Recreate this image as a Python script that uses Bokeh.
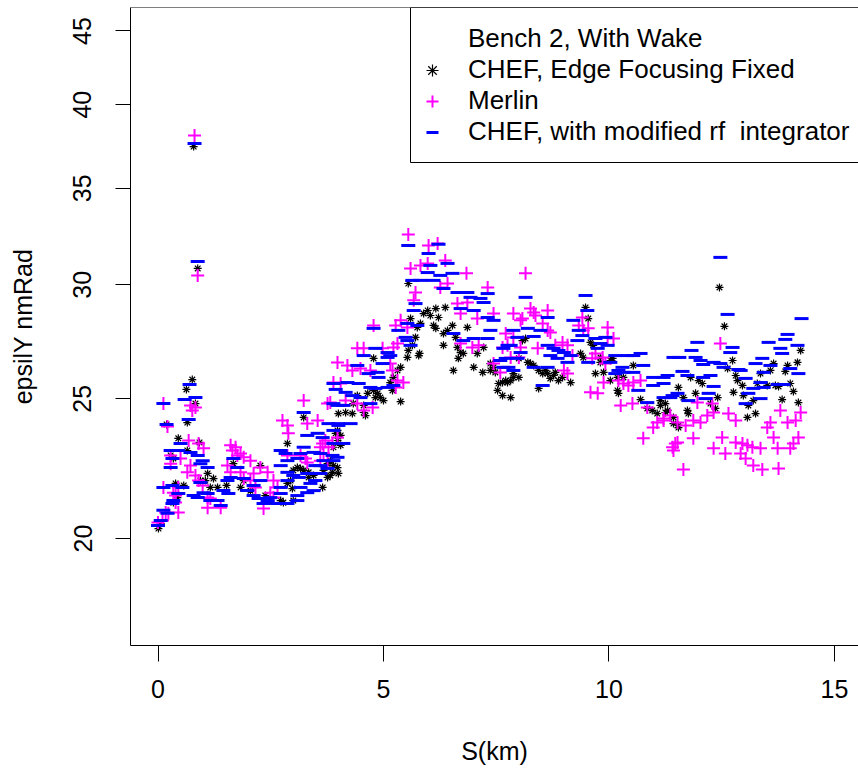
from bokeh.plotting import figure
from bokeh.models import (Range1d, FixedTicker, PrintfTickFormatter, Legend, LegendItem,
                          BoxAnnotation, Span)
from bokeh.embed import file_html
from bokeh.resources import INLINE

# ---------------- data ----------------
chef_s = [0.01, 0.06, 0.19, 0.28, 0.34, 0.34, 0.39, 0.43, 0.45, 0.57, 0.63, 0.65, 0.65, 0.76, 0.79,
          0.83, 0.88, 0.92, 0.94, 1.05, 1.10, 1.16, 1.23, 1.32, 1.52, 1.67, 1.83, 1.90, 2.05, 2.27,
          2.38, 2.49, 2.72, 2.78, 2.87, 2.87, 2.94, 2.98, 3.00, 3.00, 3.09, 3.16, 3.23, 3.23, 3.34,
          3.34, 3.45, 3.65, 3.67, 3.76, 3.76, 3.82, 3.82, 3.87, 3.89, 3.89, 3.94, 3.98, 3.98, 3.98,
          4.00, 4.00, 4.05, 4.05, 4.16, 4.31, 4.33, 4.42, 4.56, 4.56, 4.60, 4.65, 4.78, 4.78, 4.82,
          4.87, 4.93, 5.00, 5.15, 5.20, 5.22, 5.31, 5.38, 5.38, 5.53, 5.55, 5.55, 5.60, 5.64, 5.71,
          5.75, 5.78, 5.80, 5.82, 5.89, 5.98, 6.04, 6.11, 6.16, 6.16, 6.22, 6.33, 6.33, 6.37, 6.42,
          6.53, 6.55, 6.60, 6.64, 6.66, 6.71, 6.77, 6.86, 7.00, 7.08, 7.20, 7.22, 7.37, 7.37, 7.44,
          7.48, 7.53, 7.55, 7.64, 7.64, 7.71, 7.75, 7.82, 7.82, 7.88, 7.88, 8.00, 8.00, 8.08, 8.15,
          8.20, 8.26, 8.33, 8.44, 8.44, 8.53, 8.59, 8.64, 8.70, 8.77, 8.81, 8.88, 8.97, 9.15, 9.37,
          9.43, 9.48, 9.54, 9.59, 9.65, 9.70, 9.81, 9.81, 9.88, 10.03, 10.03, 10.08, 10.19, 10.19,
          10.21, 10.32, 10.54, 10.70, 10.85, 10.96, 11.07, 11.14, 11.14, 11.25, 11.25, 11.30, 11.43,
          11.43, 11.54, 11.54, 11.54, 11.65, 11.74, 11.76, 11.81, 11.92, 11.99, 12.07, 12.25, 12.36,
          12.41, 12.45, 12.56, 12.63, 12.74, 12.76, 12.81, 12.85, 12.96, 12.98, 13.07, 13.09, 13.20,
          13.25, 13.29, 13.36, 13.51, 13.58, 13.65, 13.69, 13.76, 13.84, 13.91, 13.96, 14.02, 14.09,
          14.18, 14.20, 14.25]
chef_eps = [20.32, 20.48, 24.00, 22.84, 21.18, 22.73, 21.84, 21.35, 23.47, 21.77, 25.38, 23.02, 24.07,
            25.78, 37.41, 24.81, 30.79, 23.32, 21.94, 21.94, 22.19, 21.70, 22.01, 21.70, 21.77, 22.54,
            21.70, 21.94, 21.59, 22.47, 21.42, 21.25, 21.25, 21.18, 21.84, 23.28, 21.94, 21.66, 21.25,
            22.30, 22.40, 22.37, 22.30, 24.27, 22.23, 22.05, 22.12, 21.70, 22.30, 22.05, 22.54, 22.65,
            22.12, 22.23, 22.47, 23.14, 23.66, 22.40, 23.77, 23.39, 22.19, 24.42, 23.58, 23.21, 24.46,
            24.42, 24.81, 25.13, 24.46, 24.74, 24.34, 25.22, 25.34, 26.67, 25.05, 25.22, 25.05, 24.93,
            25.66, 25.34, 25.87, 26.16, 26.29, 24.89, 26.71, 27.01, 30.06, 28.42, 27.23, 27.58, 28.02,
            26.79, 26.88, 28.20, 28.65, 28.79, 28.56, 28.11, 27.98, 28.88, 28.47, 27.75, 27.23, 28.93,
            27.89, 28.11, 26.16, 27.58, 27.14, 26.67, 26.92, 26.88, 28.02, 26.29, 26.88, 26.08, 27.14,
            26.16, 26.45, 26.29, 26.08, 25.34, 25.62, 25.66, 25.13, 25.74, 25.66, 25.74, 25.05, 25.87,
            26.03, 25.87, 26.67, 27.44, 27.53, 26.50, 26.45, 26.37, 26.16, 25.42, 26.03, 26.16, 26.03,
            25.83, 25.95, 26.08, 25.74, 25.87, 25.66, 26.88, 26.71, 28.93, 28.42, 27.36, 27.23, 26.03,
            26.71, 26.50, 26.08, 26.58, 25.74, 26.67, 25.87, 25.34, 25.22, 25.87, 26.37, 24.97, 24.62,
            24.54, 24.42, 24.93, 24.74, 24.81, 24.46, 24.54, 24.03, 24.27, 23.88, 23.96, 25.46, 25.05,
            24.54, 24.42, 25.87, 25.22, 25.74, 25.62, 24.81, 24.62, 25.05, 29.87, 28.07, 26.24, 26.58,
            25.26, 25.95, 25.74, 25.54, 25.13, 24.27, 24.74, 24.93, 24.42, 25.62, 26.03, 25.54, 26.16,
            26.45, 25.54, 25.50, 24.97, 26.12, 26.37, 25.62, 25.30, 26.50, 24.85, 27.01]

merlin_s = [0.00, 0.10, 0.12, 0.12, 0.17, 0.21, 0.23, 0.28, 0.28, 0.34, 0.39, 0.39, 0.45, 0.45, 0.50,
            0.65, 0.68, 0.72, 0.72, 0.76, 0.81, 0.83, 0.83, 0.88, 0.90, 0.90, 0.99, 1.01, 1.10, 1.10,
            1.16, 1.39, 1.54, 1.61, 1.61, 1.65, 1.72, 1.76, 1.83, 1.83, 1.90, 1.90, 2.05, 2.05, 2.12,
            2.16, 2.27, 2.34, 2.43, 2.49, 2.56, 2.56, 2.65, 2.76, 2.87, 2.87, 2.89, 3.16, 3.23, 3.27,
            3.31, 3.31, 3.54, 3.60, 3.60, 3.65, 3.67, 3.71, 3.76, 3.76, 3.78, 3.82, 3.87, 3.89, 3.98,
            3.98, 4.05, 4.16, 4.20, 4.31, 4.42, 4.42, 4.49, 4.56, 4.56, 4.71, 4.76, 4.78, 4.98, 5.15,
            5.20, 5.22, 5.27, 5.27, 5.31, 5.31, 5.38, 5.44, 5.53, 5.55, 5.60, 5.67, 5.71, 5.82, 5.98,
            6.00, 6.20, 6.26, 6.37, 6.42, 6.64, 6.71, 6.71, 6.84, 6.86, 6.97, 7.08, 7.11, 7.31, 7.44,
            7.44, 7.59, 7.64, 7.71, 7.75, 7.82, 7.88, 7.88, 8.00, 8.04, 8.04, 8.08, 8.15, 8.26, 8.33,
            8.37, 8.42, 8.53, 8.64, 8.64, 8.70, 8.81, 8.97, 9.00, 9.08, 9.08, 9.19, 9.33, 9.41, 9.43,
            9.54, 9.59, 9.63, 9.70, 9.75, 9.86, 9.88, 9.92, 9.97, 9.97, 10.10, 10.21, 10.26, 10.32,
            10.43, 10.52, 10.54, 10.70, 10.76, 10.85, 10.98, 11.07, 11.21, 11.21, 11.36, 11.41, 11.43,
            11.47, 11.52, 11.52, 11.65, 11.70, 11.87, 11.87, 11.96, 12.03, 12.18, 12.29, 12.32, 12.32,
            12.47, 12.51, 12.58, 12.65, 12.81, 12.81, 12.92, 12.96, 13.03, 13.07, 13.18, 13.20, 13.36,
            13.40, 13.51, 13.58, 13.65, 13.74, 13.76, 13.80, 13.96, 14.02, 14.09, 14.14, 14.20, 14.25]
merlin_eps = [20.52, 20.58, 21.70, 24.81, 20.85, 23.92, 20.82, 22.84, 22.54, 21.52, 21.18, 21.42, 20.85,
              21.70, 22.73, 22.23, 23.39, 24.74, 22.47, 24.54, 38.08, 24.66, 22.12, 30.45, 21.94, 23.28,
              21.77, 23.10, 21.35, 21.01, 21.32, 21.01, 22.47, 23.21, 22.23, 23.02, 23.14, 22.84, 22.91,
              22.23, 22.77, 22.01, 22.65, 21.94, 22.19, 21.70, 22.40, 20.98, 22.23, 21.52, 21.35, 21.94,
              21.70, 24.15, 23.96, 22.84, 23.66, 22.84, 24.93, 22.73, 24.03, 22.58, 24.15, 22.65, 23.14,
              23.28, 22.91, 23.39, 22.65, 24.81, 23.14, 24.85, 23.28, 25.66, 26.50, 23.50, 25.62, 24.93,
              26.37, 26.16, 24.81, 27.10, 26.24, 24.54, 27.10, 26.16, 24.66, 28.11, 27.10, 26.45, 26.16,
              27.14, 25.46, 28.11, 25.74, 27.31, 28.34, 25.66, 28.02, 32.51, 30.79, 29.26, 29.63, 30.94,
              31.04, 31.94, 32.04, 29.87, 31.19, 30.06, 29.11, 28.65, 27.31, 30.55, 29.16, 27.14, 28.42,
              27.23, 29.87, 28.65, 26.45, 26.08, 27.14, 27.75, 27.23, 26.71, 28.65, 27.58, 26.71, 28.34,
              27.14, 28.42, 30.55, 28.88, 28.70, 28.56, 27.10, 28.20, 28.79, 27.89, 27.80, 27.23, 27.36,
              26.16, 27.23, 26.03, 26.79, 28.11, 28.47, 27.89, 27.98, 25.26, 26.67, 26.88, 25.22, 26.71,
              25.66, 26.45, 28.02, 27.58, 27.53, 25.74, 24.74, 25.62, 25.54, 24.81, 25.66, 25.74, 23.47,
              24.66, 23.88, 24.07, 24.15, 24.23, 24.34, 23.14, 23.02, 23.28, 23.32, 24.07, 22.33, 23.96,
              24.15, 23.47, 24.85, 24.07, 24.34, 24.81, 24.46, 23.10, 27.31, 23.50, 22.91, 24.42, 24.15,
              23.32, 22.91, 23.28, 22.73, 23.21, 23.14, 22.47, 23.10, 22.33, 23.88, 24.07, 23.50, 23.10,
              22.37, 24.54, 24.07, 23.10, 23.28, 24.15, 23.50, 24.46]

rf_s = [0.00, 0.06, 0.12, 0.12, 0.12, 0.19, 0.21, 0.28, 0.28, 0.32, 0.32, 0.32, 0.34, 0.45, 0.45, 0.50,
        0.54, 0.59, 0.68, 0.70, 0.72, 0.79, 0.81, 0.83, 0.88, 0.88, 0.88, 0.94, 0.94, 0.99, 1.01, 1.10,
        1.10, 1.16, 1.32, 1.39, 1.45, 1.54, 1.56, 1.61, 1.67, 1.76, 1.90, 1.98, 2.12, 2.12, 2.23, 2.27,
        2.34, 2.43, 2.49, 2.65, 2.72, 2.72, 2.72, 2.72, 2.83, 2.87, 2.87, 2.87, 2.87, 3.00, 3.09, 3.09,
        3.09, 3.12, 3.16, 3.16, 3.23, 3.23, 3.31, 3.31, 3.31, 3.38, 3.45, 3.45, 3.49, 3.49, 3.54, 3.60,
        3.60, 3.60, 3.65, 3.67, 3.76, 3.78, 3.87, 3.89, 3.89, 3.89, 3.89, 3.89, 3.94, 3.98, 3.98, 4.00,
        4.00, 4.11, 4.11, 4.16, 4.20, 4.27, 4.31, 4.42, 4.45, 4.49, 4.56, 4.67, 4.71, 4.71, 4.78, 4.82,
        4.82, 4.87, 4.89, 4.98, 5.09, 5.09, 5.09, 5.15, 5.22, 5.33, 5.49, 5.53, 5.53, 5.55, 5.60, 5.64,
        5.67, 5.71, 5.75, 5.82, 5.98, 6.00, 6.04, 6.11, 6.22, 6.26, 6.33, 6.42, 6.53, 6.55, 6.64, 6.71,
        6.77, 6.86, 6.93, 7.00, 7.00, 7.15, 7.22, 7.31, 7.31, 7.31, 7.37, 7.44, 7.59, 7.66, 7.66, 7.71,
        7.75, 7.77, 7.82, 7.88, 7.88, 7.97, 7.97, 8.04, 8.15, 8.20, 8.33, 8.33, 8.48, 8.53, 8.64, 8.64,
        8.64, 8.70, 8.77, 8.86, 8.88, 9.00, 9.08, 9.15, 9.21, 9.30, 9.33, 9.41, 9.48, 9.52, 9.54, 9.70,
        9.75, 9.81, 9.92, 9.97, 10.03, 10.14, 10.14, 10.21, 10.30, 10.32, 10.41, 10.54, 10.54, 10.65,
        10.70, 10.76, 10.85, 10.98, 10.98, 11.21, 11.21, 11.21, 11.30, 11.36, 11.41, 11.43, 11.52,
        11.56, 11.63, 11.74, 11.76, 11.83, 11.92, 11.96, 12.03, 12.09, 12.09, 12.14, 12.21, 12.25,
        12.32, 12.32, 12.47, 12.47, 12.54, 12.63, 12.69, 12.74, 12.87, 12.92, 13.03, 13.03, 13.09,
        13.20, 13.25, 13.36, 13.36, 13.40, 13.43, 13.43, 13.54, 13.58, 13.74, 13.80, 13.84, 13.87,
        13.91, 13.96, 14.02, 14.18, 14.20, 14.27]
rf_eps = [20.42, 20.58, 20.92, 21.70, 24.81, 24.00, 20.82, 22.40, 23.02, 21.77, 21.15, 22.73, 21.25,
          21.49, 23.02, 23.28, 21.70, 24.97, 24.19, 25.58, 22.95, 21.42, 37.60, 25.05, 22.84, 31.14,
          21.35, 22.54, 21.87, 22.65, 21.52, 22.40, 21.49, 21.25, 21.25, 21.08, 21.59, 21.94, 21.49,
          22.05, 22.73, 22.40, 22.01, 21.59, 21.42, 21.77, 21.32, 21.94, 21.15, 21.25, 21.35, 21.15,
          21.49, 21.70, 22.47, 23.02, 22.91, 21.15, 21.94, 22.23, 22.65, 22.12, 21.25, 21.42, 22.73,
          22.05, 21.70, 22.91, 23.14, 24.46, 21.52, 22.19, 23.58, 21.84, 21.59, 22.95, 21.94, 22.47,
          23.66, 22.19, 22.91, 22.47, 23.50, 22.65, 22.37, 24.03, 22.84, 23.77, 24.81, 22.65, 23.28,
          25.62, 25.38, 22.77, 24.74, 23.96, 24.03, 23.28, 24.74, 25.26, 25.66, 24.03, 25.13, 26.37,
          25.62, 25.05, 26.79, 26.03, 25.46, 24.81, 27.98, 27.10, 25.42, 26.08, 25.87, 26.45, 26.71,
          26.92, 25.46, 26.79, 25.54, 27.89, 27.58, 27.44, 28.20, 31.94, 27.23, 30.21, 28.79, 29.11,
          28.11, 30.21, 30.59, 31.54, 30.94, 30.21, 32.00, 30.45, 29.82, 31.04, 30.55, 27.75, 29.63,
          28.88, 27.44, 29.63, 29.40, 28.79, 27.53, 29.35, 29.16, 29.58, 28.47, 27.53, 27.89, 28.34,
          26.58, 27.10, 26.29, 26.67, 27.23, 26.29, 27.23, 27.89, 26.16, 27.58, 26.67, 26.92, 29.40,
          27.98, 27.62, 26.29, 27.89, 25.54, 28.47, 27.23, 26.29, 26.79, 27.10, 26.67, 27.01, 26.92,
          26.50, 26.79, 28.34, 27.44, 27.89, 27.66, 29.49, 28.79, 26.50, 27.53, 27.10, 27.31, 27.58,
          27.23, 26.50, 26.79, 26.03, 26.16, 26.29, 26.08, 26.79, 26.79, 26.08, 25.34, 26.88, 26.37,
          24.85, 25.87, 25.54, 25.87, 25.62, 25.05, 25.95, 25.05, 25.13, 26.71, 25.22, 26.71, 26.12,
          25.95, 24.93, 27.01, 26.71, 27.36, 26.58, 26.41, 25.87, 25.01, 25.22, 25.95, 26.50, 25.50,
          31.34, 26.45, 26.29, 28.61, 26.92, 27.14, 26.20, 26.16, 25.83, 24.81, 25.22, 25.42, 26.45,
          25.01, 25.66, 26.67, 25.46, 26.08, 27.36, 26.37, 25.58, 27.10, 26.88, 25.58, 27.49, 27.71,
          26.24, 27.23, 26.03, 28.42]

x_ticks = [0, 5, 10, 15]
y_ticks = [20, 25, 30, 35, 40, 45]
legend_title = "Bench 2, With Wake"
series_labels = ["CHEF, Edge Focusing Fixed", "Merlin", "CHEF, with modified rf  integrator"]

FONT = "Liberation Sans"

p = figure(frame_width=728, frame_height=638, y_axis_type="log",
           x_range=Range1d(-0.61, 15.533), y_range=Range1d(16.857, 46.72),
           output_backend="svg", toolbar_location=None,
           min_border_left=130, min_border_right=0, min_border_top=7, min_border_bottom=128,
           background_fill_color="white", border_fill_color="white")
p.outline_line_color = None
p.xgrid.visible = False
p.ygrid.visible = False

for ax in (p.xaxis[0], p.yaxis[0]):
    ax.axis_line_color = "black"
    ax.axis_line_width = 1
    ax.major_tick_line_color = "black"
    ax.major_tick_in = 0
    ax.minor_tick_line_color = None
    ax.major_label_text_font = FONT
    ax.major_label_text_font_size = "25px"
    ax.major_label_text_color = "black"
    ax.axis_label_text_font = FONT
    ax.axis_label_text_font_size = "25px"
    ax.axis_label_text_font_style = "normal"
    ax.axis_label_text_color = "black"

p.xaxis.ticker = FixedTicker(ticks=x_ticks)
p.xaxis.major_tick_out = 16
p.xaxis.major_label_standoff = 18
p.xaxis.axis_label = "S(km)"
p.xaxis.axis_label_standoff = 36

p.yaxis.ticker = FixedTicker(ticks=y_ticks)
p.yaxis.formatter = PrintfTickFormatter(format="%d")
p.yaxis.major_tick_out = 15
p.yaxis.major_label_orientation = "vertical"
p.yaxis.major_label_standoff = 24
p.yaxis.axis_label = "epsilY nmRad"
p.yaxis.axis_label_standoff = 34

# top border of the plot box (right side runs off the picture)
p.add_layout(Span(location=p.y_range.end, dimension="width", line_color="black", line_width=1))

r_chef = p.scatter(chef_s, chef_eps, marker="asterisk", size=8, line_color="black", line_width=1.2)
r_merlin = p.scatter(merlin_s, merlin_eps, marker="cross", size=13, line_color="#FF00FF", line_width=2)
r_rf = p.scatter(rf_s, rf_eps, marker="dash", size=14, line_color="#0000FF", line_width=3)
r_blank = p.scatter(x=[], y=[], marker="dash", size=1, line_alpha=0, fill_alpha=0)

# legend box (left and bottom edges; top coincides with plot box, right runs off the picture)
p.add_layout(BoxAnnotation(left=280, right=900, top=638, bottom=483,
                           left_units="screen", right_units="screen",
                           top_units="screen", bottom_units="screen",
                           fill_color=None, fill_alpha=0, line_color="black",
                           line_alpha=1.0, line_width=1))

# border-less legend (no padding is applied without a border)
legend = Legend(items=[LegendItem(label=legend_title, renderers=[r_blank]),
                       LegendItem(label=series_labels[0], renderers=[r_chef]),
                       LegendItem(label=series_labels[1], renderers=[r_merlin]),
                       LegendItem(label=series_labels[2], renderers=[r_rf])],
                location=(287, 498), padding=0, spacing=0, margin=0,
                glyph_width=30, glyph_height=30, label_height=30, label_standoff=21,
                border_line_color=None, background_fill_alpha=0,
                label_text_font=FONT, label_text_font_size="26px", label_text_color="black")
p.add_layout(legend)

open("out.html", "w").write(file_html(p, INLINE))
